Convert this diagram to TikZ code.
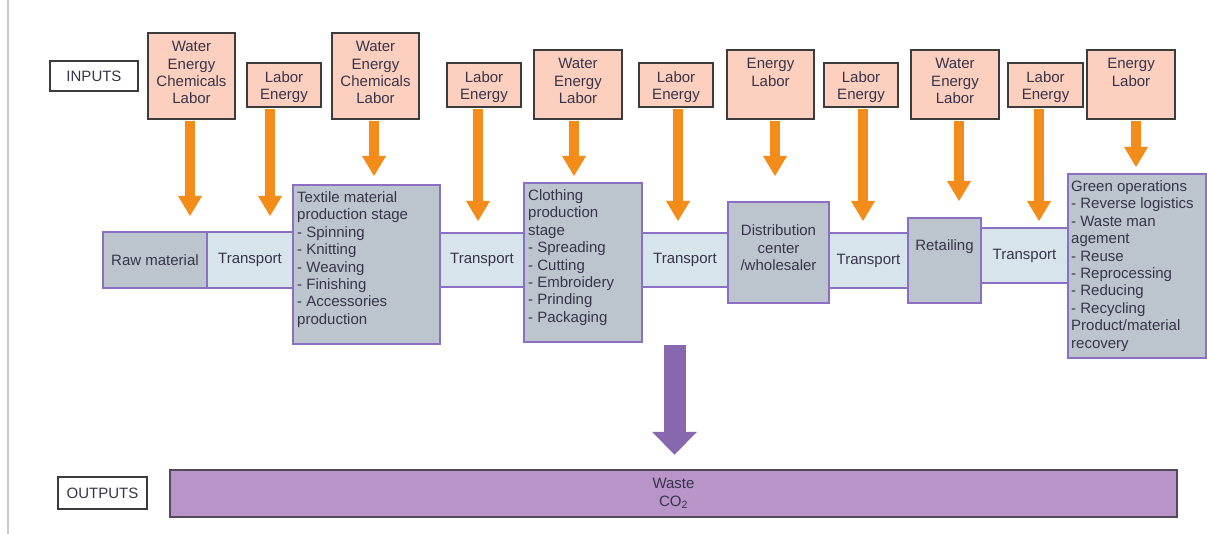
\documentclass[tikz,border=0pt]{standalone}
\usepackage{fontspec}
\setmainfont{Liberation Sans}
\usetikzlibrary{arrows.meta}

\definecolor{txt}{HTML}{37344A}
\definecolor{infill}{HTML}{FDCFBE}
\definecolor{inline}{HTML}{3E3B3C}
\definecolor{stagefill}{HTML}{BCC5CE}
\definecolor{transfill}{HTML}{D7E4EC}
\definecolor{stageline}{HTML}{8C6FC2}
\definecolor{feedorange}{HTML}{F48C1A}
\definecolor{wastefill}{HTML}{B894C8}
\definecolor{wasteline}{HTML}{524A58}
\definecolor{outarrow}{HTML}{8767AE}
\definecolor{rule}{HTML}{CCCCCC}

\tikzset{
  basefont/.style={font=\fontsize{15}{17.4}\selectfont, text=txt},
  tag/.style={draw=inline, line width=2.5pt, fill=white, inner sep=0pt, basefont},
  inbox/.style={draw=inline, line width=2.5pt, fill=infill, inner sep=0pt},
  intext/.style={basefont, align=center, inner sep=0pt, anchor=north, yshift=-9.5pt},
  stagebox/.style={draw=stageline, line width=2pt, fill=stagefill, inner sep=0pt, basefont, align=center},
  transbox/.style={draw=stageline, line width=2pt, fill=transfill, inner sep=0pt, basefont, align=center},
  stagetext/.style={basefont, align=left, inner sep=0pt, anchor=north west, xshift=5pt, yshift=-7.5pt},
  plaintext/.style={basefont, align=center, inner sep=0pt},
  feed/.style={draw=feedorange, line width=10pt, shorten <=1.2pt, shorten >=#1,
    -{Triangle[width=24pt,length=20pt,line width=0pt]}},
  outflow/.style={draw=outarrow, line width=22pt, shorten >=#1,
    -{Triangle[width=45pt,length=23pt,line width=0pt]}},
  wastebox/.style={draw=wasteline, line width=2.5pt, fill=wastefill, inner sep=0pt, basefont, align=center}
}

\begin{document}
\begin{tikzpicture}[x=1pt,y=-1pt]
\useasboundingbox (0,0) rectangle (1207,534);
\fill[white] (0,0) rectangle (1207,534);
\draw[rule, line width=1.5pt] (8,0) -- (8,534);

% side tags
\node[tag, minimum width=88pt, minimum height=30pt] (inputs) at (94,76) {INPUTS};
\node[tag, minimum width=89pt, minimum height=32pt] (outputs) at (102.5,493) {OUTPUTS};

% input boxes
\node[inbox, minimum width=87pt, minimum height=86pt,
  label={[intext]north:{Water\\Energy\\Chemicals\\Labor}}] (in1) at (191.5,76) {};
\node[inbox, minimum width=74pt, minimum height=44pt,
  label={[intext]north:{Labor\\Energy}}] (in2) at (284,85) {};
\node[inbox, minimum width=87pt, minimum height=86pt,
  label={[intext]north:{Water\\Energy\\Chemicals\\Labor}}] (in3) at (375.5,76) {};
\node[inbox, minimum width=74pt, minimum height=44pt,
  label={[intext]north:{Labor\\Energy}}] (in4) at (484,85) {};
\node[inbox, minimum width=88pt, minimum height=69pt,
  label={[intext]north:{Water\\Energy\\Labor}}] (in5) at (578,84.5) {};
\node[inbox, minimum width=74pt, minimum height=44pt,
  label={[intext]north:{Labor\\Energy}}] (in6) at (676,85) {};
\node[inbox, minimum width=87pt, minimum height=69pt,
  label={[intext]north:{Energy\\Labor}}] (in7) at (770.5,84.5) {};
\node[inbox, minimum width=74pt, minimum height=44pt,
  label={[intext]north:{Labor\\Energy}}] (in8) at (861,85) {};
\node[inbox, minimum width=88pt, minimum height=69pt,
  label={[intext]north:{Water\\Energy\\Labor}}] (in9) at (955,84.5) {};
\node[inbox, minimum width=75pt, minimum height=44pt,
  label={[intext]north:{Labor\\Energy}}] (in10) at (1045.5,85) {};
\node[inbox, minimum width=88pt, minimum height=69pt,
  label={[intext]north:{Energy\\Labor}}] (in11) at (1131,84.5) {};

% supply chain stages
\node[stagebox, minimum width=104pt, minimum height=56pt] (raw) at (155,260) {Raw material};
\node[transbox, minimum width=86pt, minimum height=56pt] (t1) at (250,260) {Transport};
\node[stagebox, minimum width=147pt, minimum height=159pt,
  label={[stagetext]north west:{Textile material\\production stage\\- Spinning\\- Knitting\\- Weaving\\- Finishing\\- Accessories\\production}}] (textile) at (366.5,264.5) {};
\node[transbox, minimum width=84pt, minimum height=54pt] (t2) at (482,260) {Transport};
\node[stagebox, minimum width=118pt, minimum height=159pt,
  label={[stagetext]north west:{Clothing\\production\\stage\\- Spreading\\- Cutting\\- Embroidery\\- Prinding\\- Packaging}}] (clothing) at (583,262.5) {};
\node[transbox, minimum width=86pt, minimum height=54pt] (t3) at (685,260) {Transport};
\node[stagebox, minimum width=101pt, minimum height=101pt,
  label={[plaintext, yshift=4.5pt]center:{Distribution\\center\\/wholesaler}}] (dist) at (778.5,252.5) {};
\node[transbox, minimum width=79pt, minimum height=55pt] (t4) at (868.5,260.5) {Transport};
\node[stagebox, minimum width=73pt, minimum height=85pt,
  label={[plaintext, yshift=14pt]center:{Retailing}}] (retail) at (944.5,260.5) {};
\node[transbox, minimum width=87pt, minimum height=55pt] (t5) at (1024.5,255.5) {Transport};
\node[stagebox, minimum width=138pt, minimum height=184pt,
  label={[stagetext, xshift=-1pt]north west:{Green operations\\- Reverse logistics\\- Waste man\\agement\\- Reuse\\- Reprocessing\\- Reducing\\- Recycling\\Product/material\\recovery}}] (green) at (1137,266) {};

% outputs
\node[wastebox, minimum width=1007pt, minimum height=47pt] (waste) at (673.5,493.5) {Waste\\CO\textsubscript{2}};

% resource inputs feeding each stage
\draw[feed=15pt] ([xshift=-1.5pt]in1.south) -- ([xshift=-1.5pt]in1.south |- raw.north);
\draw[feed=15pt] ([xshift=-14pt]in2.south) -- ([xshift=-14pt]in2.south |- t1.north);
\draw[feed=8pt] ([xshift=-1.5pt]in3.south) -- ([xshift=-1.5pt]in3.south |- textile.north);
\draw[feed=11pt] ([xshift=-6pt]in4.south) -- ([xshift=-6pt]in4.south |- t2.north);
\draw[feed=6pt] ([xshift=-4pt]in5.south) -- ([xshift=-4pt]in5.south |- clothing.north);
\draw[feed=11pt] ([xshift=2pt]in6.south) -- ([xshift=2pt]in6.south |- t3.north);
\draw[feed=25pt] ([xshift=4.5pt]in7.south) -- ([xshift=4.5pt]in7.south |- dist.north);
\draw[feed=11pt] ([xshift=2pt]in8.south) -- ([xshift=2pt]in8.south |- t4.north);
\draw[feed=16pt] ([xshift=4pt]in9.south) -- ([xshift=4pt]in9.south |- retail.north);
\draw[feed=6pt] ([xshift=-6.5pt]in10.south) -- ([xshift=-6.5pt]in10.south |- t5.north);
\draw[feed=6pt] ([xshift=5pt]in11.south) -- ([xshift=5pt]in11.south |- green.north);

% waste flow
\coordinate (wastesrc) at (674.5,345);
\draw[outflow=14pt] (wastesrc) -- (wastesrc |- waste.north);
\end{tikzpicture}
\end{document}
